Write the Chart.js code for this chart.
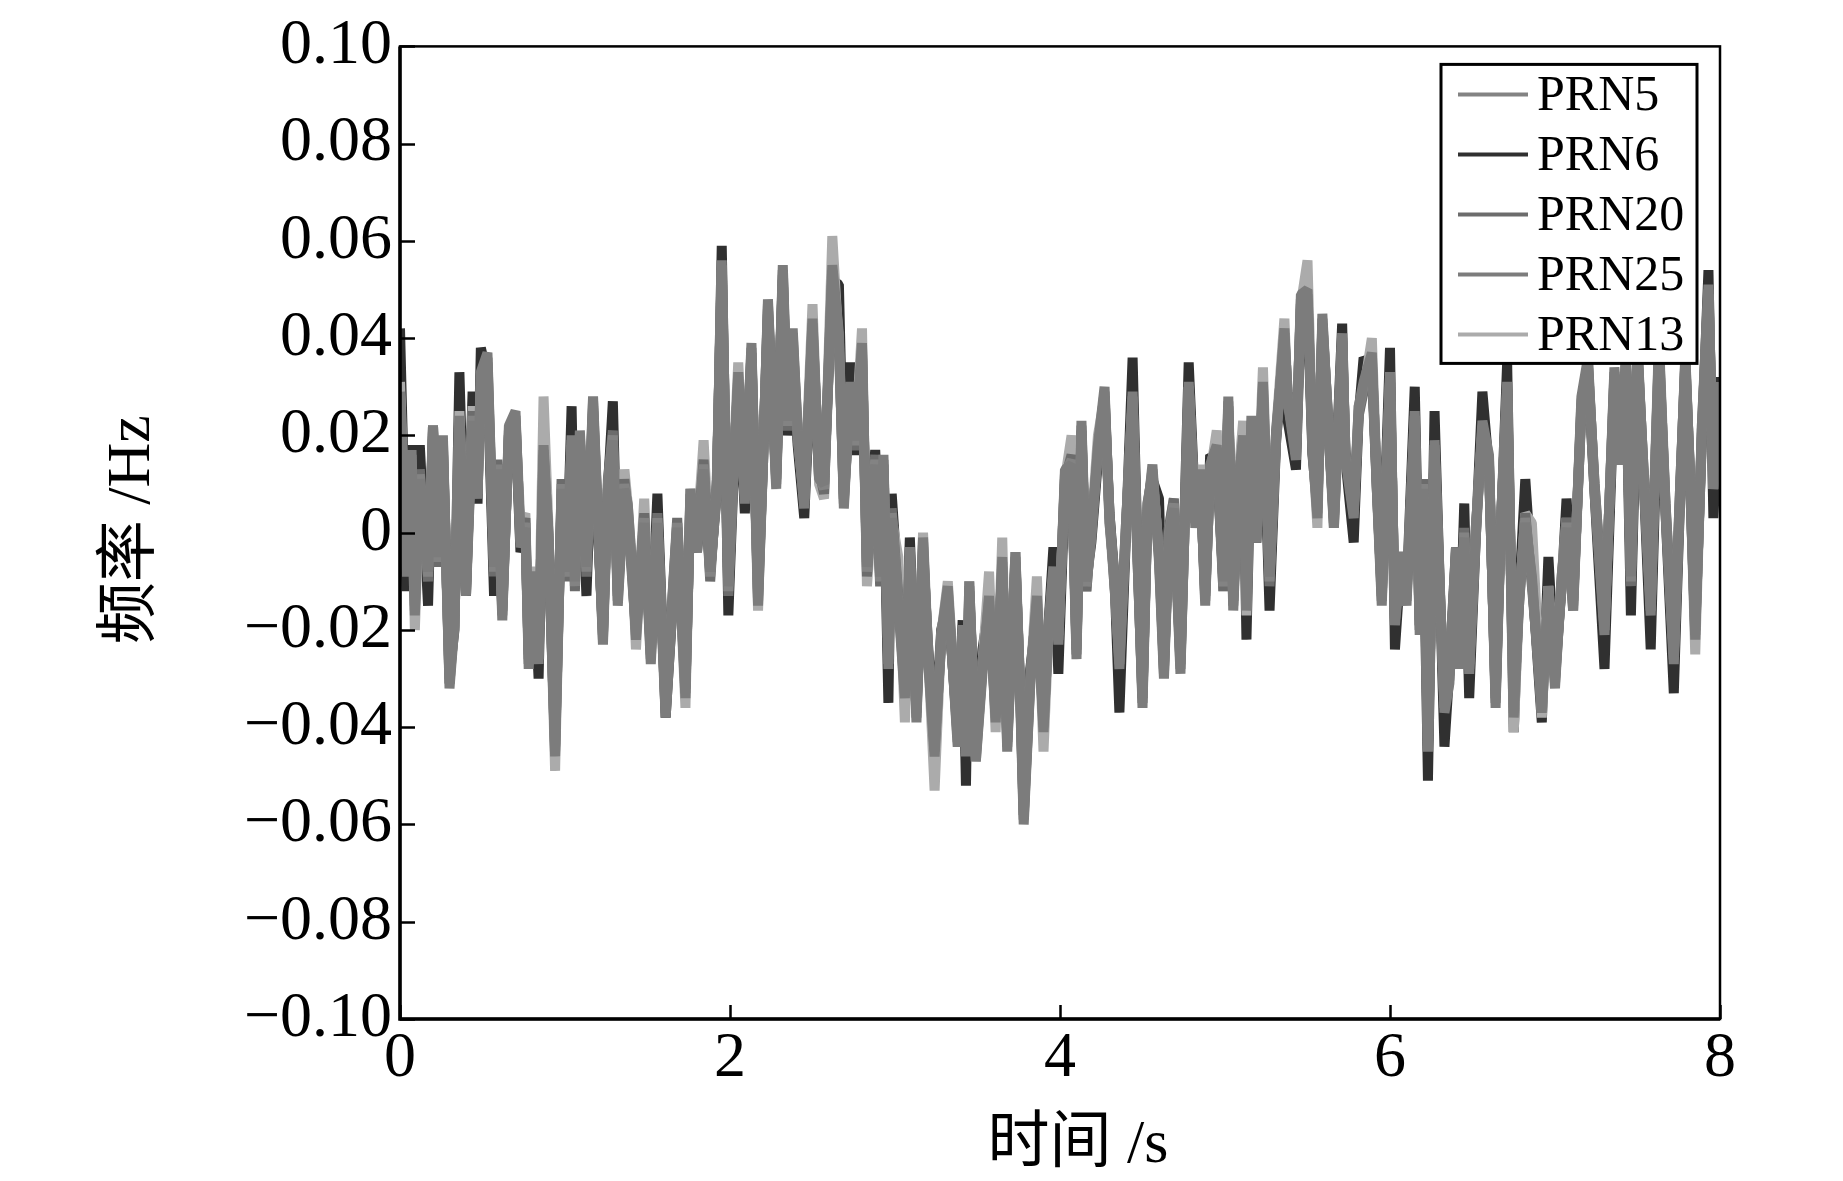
<!DOCTYPE html>
<html>
<head>
<meta charset="utf-8">
<script src="https://cdn.jsdelivr.net/npm/chart.js@4.4.0/dist/chart.umd.min.js"></script>
<style>
  html, body { margin: 0; padding: 0; background: #fff; }
  canvas { display: block; }
</style>
</head>
<body>
<canvas id="chart" width="1843" height="1181"></canvas>
<script>
// time samples (s)
const time = [
  0.00,0.04,0.07,0.09,0.12,0.17,0.20,0.23,0.26,0.30,
  0.33,0.36,0.40,0.44,0.47,0.49,0.53,0.57,0.59,0.62,
  0.66,0.70,0.73,0.76,0.78,0.81,0.84,0.87,0.90,0.94,
  0.98,1.01,1.04,1.06,1.09,1.13,1.17,1.20,1.23,1.26,
  1.29,1.32,1.36,1.38,1.41,1.43,1.48,1.52,1.56,1.61,
  1.68,1.73,1.76,1.80,1.84,1.88,1.92,1.95,1.99,2.02,
  2.05,2.09,2.13,2.17,2.20,2.23,2.28,2.32,2.35,2.38,
  2.41,2.45,2.50,2.54,2.57,2.62,2.66,2.69,2.73,2.76,
  2.80,2.83,2.88,2.91,2.93,2.96,2.98,3.02,3.06,3.09,
  3.13,3.17,3.20,3.24,3.28,3.32,3.38,3.41,3.43,3.45,
  3.49,3.53,3.57,3.61,3.65,3.68,3.73,3.76,3.78,3.82,
  3.86,3.90,3.93,3.96,3.99,4.03,4.07,4.10,4.13,4.16,
  4.19,4.23,4.27,4.30,4.33,4.36,4.40,4.44,4.47,4.50,
  4.53,4.56,4.60,4.63,4.66,4.69,4.73,4.78,4.82,4.85,
  4.88,4.91,4.95,4.99,5.02,5.05,5.08,5.11,5.13,5.16,
  5.19,5.23,5.27,5.31,5.36,5.38,5.43,5.46,5.50,5.53,
  5.56,5.59,5.63,5.66,5.71,5.73,5.78,5.81,5.84,5.89,
  5.92,5.95,6.00,6.03,6.07,6.10,6.15,6.18,6.20,6.23,
  6.27,6.30,6.33,6.36,6.40,6.42,6.45,6.48,6.52,6.56,
  6.60,6.64,6.67,6.71,6.75,6.78,6.82,6.86,6.92,6.96,
  7.00,7.04,7.07,7.11,7.16,7.20,7.24,7.30,7.36,7.40,
  7.43,7.46,7.50,7.54,7.58,7.63,7.67,7.72,7.76,7.79,
  7.82,7.85,7.89,7.93,7.96,8.00
];

// frequency values in mHz
const prn5 = [
  28,-8,16,-16,12,-9,21,-6,19,-31,
  -18,23,-12,24,8,32,36,-8,14,-17,
  21,24,-2,2,-27,-9,-26,17,-1,-45,
  10,-9,19,-11,20,-8,27,2,-22,10,
  20,-14,10,5,-10,-21,3,-26,3,-37,
  2,-33,8,-3,14,-9,10,55,-12,12,
  32,7,38,-14,15,47,10,54,22,41,
  20,6,43,12,9,54,40,6,30,18,
  38,-8,15,-10,15,-27,4,-14,-33,-4,
  -38,-2,-25,-45,-22,-12,-43,-20,-45,-11,
  -46,-28,-14,-38,-6,-44,-5,-35,-59,-30,
  -14,-40,-20,-8,-22,12,15,-25,22,-11,
  0,17,29,3,-10,-27,1,28,-5,-35,
  5,13,-5,-29,0,6,-28,30,2,12,
  -14,13,17,-11,27,-15,10,19,-15,23,
  -1,30,-10,20,41,28,16,48,49,18,
  4,44,20,2,40,16,4,25,30,36,
  10,-14,32,-18,-5,-14,24,-20,10,-44,
  18,-10,-36,-30,-4,-27,0,-28,0,22,
  15,-35,0,30,-37,-15,3,-10,-36,-12,
  -31,-10,2,-15,27,35,9,-20,33,15,
  36,-10,38,10,-16,38,5,-26,10,36,
  10,-21,21,50,10,30
];

const prn6 = [
  42,-12,18,-14,18,-15,22,-5,17,-29,
  -20,33,-13,29,6,38,32,-13,14,-15,
  20,22,-4,0,-25,-8,-30,15,-3,-44,
  8,-8,26,-9,19,-13,25,0,-20,9,
  27,-12,9,4,-9,-19,1,-24,8,-38,
  0,-32,6,-4,12,-8,8,59,-17,10,
  30,4,36,-12,14,45,12,52,20,38,
  18,3,41,11,10,52,51,8,35,16,
  36,-6,17,-8,13,-35,8,-12,-31,-1,
  -36,-4,-23,-43,-20,-14,-41,-18,-52,-12,
  -45,-24,-15,-36,-8,-42,-6,-33,-57,-28,
  -16,-38,-19,-3,-29,10,14,-23,20,-10,
  -2,15,27,4,-9,-37,0,36,-4,-33,
  4,11,7,-27,-2,5,-26,35,4,10,
  -12,16,15,-10,25,-13,9,17,-22,21,
  -2,28,-16,19,39,23,13,46,47,16,
  5,42,19,3,43,15,-2,24,36,34,
  9,-12,38,-24,-4,-13,30,-18,8,-51,
  25,-9,-44,-28,-3,-26,6,-34,-1,29,
  13,-33,-1,35,-41,-14,11,-9,-39,-5,
  -29,-11,7,-14,25,33,8,-28,31,14,
  34,-17,36,9,-24,36,4,-33,9,34,
  9,-20,19,54,3,32
];

const prn20 = [
  27,-7,15,-15,13,-10,20,-7,18,-30,
  -17,22,-11,25,9,31,35,-9,15,-16,
  20,23,-1,3,-26,-10,-25,16,0,-44,
  11,-10,18,-12,19,-9,26,1,-21,11,
  21,-13,11,4,-11,-20,4,-25,4,-36,
  3,-32,7,-2,15,-10,11,54,-13,13,
  31,8,37,-13,16,46,11,53,21,40,
  19,7,42,13,8,53,39,7,29,17,
  37,-9,16,-11,14,-26,5,-13,-32,-5,
  -37,-3,-24,-44,-23,-13,-42,-21,-44,-12,
  -45,-27,-15,-37,-7,-43,-6,-34,-58,-29,
  -15,-39,-21,-9,-21,11,16,-24,21,-12,
  1,16,28,4,-11,-26,2,27,-6,-34,
  6,12,-4,-28,1,7,-27,29,3,11,
  -13,12,16,-12,26,-14,11,18,-14,22,
  0,29,-11,21,40,29,17,47,48,19,
  5,43,21,3,39,17,5,24,29,35,
  11,-13,31,-17,-6,-13,23,-19,11,-43,
  17,-11,-35,-29,-5,-26,1,-27,1,21,
  14,-34,1,29,-36,-16,4,-11,-35,-13,
  -30,-11,3,-14,26,34,10,-19,32,16,
  35,-11,37,11,-15,37,6,-25,11,35,
  11,-20,20,49,11,29
];

const prn25 = [
  29,-9,17,-17,11,-8,22,-5,20,-32,
  -19,24,-13,23,7,33,37,-7,13,-18,
  22,25,-3,1,-28,-8,-27,18,-2,-46,
  9,-8,20,-10,21,-7,28,3,-23,9,
  19,-15,9,6,-9,-22,2,-27,2,-38,
  1,-34,9,-4,13,-8,9,56,-11,11,
  33,6,39,-15,14,48,9,55,23,42,
  21,5,44,11,10,55,41,5,31,19,
  39,-7,14,-9,16,-28,3,-15,-34,-3,
  -39,-1,-26,-46,-21,-11,-44,-19,-46,-10,
  -47,-29,-13,-39,-5,-45,-4,-36,-60,-31,
  -13,-41,-19,-7,-23,13,14,-26,23,-10,
  -1,18,30,2,-9,-28,0,29,-4,-36,
  4,14,-6,-30,-1,5,-29,31,1,13,
  -15,14,18,-10,28,-16,9,20,-16,24,
  -2,31,-9,19,42,27,15,49,50,17,
  3,45,19,1,41,15,3,26,31,37,
  9,-15,33,-19,-4,-15,25,-21,9,-45,
  19,-9,-37,-31,-3,-28,-1,-29,-1,23,
  16,-36,-1,31,-38,-14,2,-9,-37,-11,
  -32,-9,1,-16,28,36,8,-21,34,14,
  37,-9,39,9,-17,39,4,-27,9,37,
  9,-22,22,51,9,31
];

const prn13 = [
  31,-6,14,-20,10,-8,19,-4,16,-31,
  -18,25,-10,26,10,30,33,-6,12,-16,
  19,23,2,4,-25,-7,-24,28,1,-49,
  11,-7,18,-10,18,-6,25,3,-21,8,
  18,-13,13,6,-8,-24,7,-25,2,-35,
  2,-36,9,-1,19,-7,9,54,-10,14,
  35,8,37,-16,16,44,11,52,23,39,
  22,7,47,10,7,61,38,7,28,19,
  42,-11,13,-9,14,-25,3,-5,-39,-6,
  -37,0,-24,-53,-21,-10,-42,-21,-44,-10,
  -47,-27,-8,-41,-1,-43,-4,-34,-58,-31,
  -9,-45,-21,-9,-21,11,20,-24,21,-12,
  1,20,28,2,-11,-25,2,27,-6,-34,
  6,12,-4,-28,1,7,-27,30,3,14,
  -13,12,21,-12,26,-14,11,23,-17,22,
  0,34,-9,21,44,27,17,47,56,19,
  1,43,21,1,39,17,5,26,29,40,
  11,-13,31,-17,-6,-12,22,-19,11,-43,
  17,-11,-35,-29,-5,-26,-1,-27,1,21,
  14,-34,1,29,-41,-16,4,2,-38,-11,
  -30,-9,3,-16,26,34,10,-19,32,16,
  35,-9,37,11,-15,40,6,-25,11,35,
  11,-25,22,49,9,29
];

const seriesNames = ['PRN5', 'PRN6', 'PRN20', 'PRN25', 'PRN13'];
const seriesColors = ['#838383', '#303030', '#6c6c6c', '#7c7c7c', '#ababab'];
// drawing order: lower number is drawn on top
const seriesOrder = [1, 4, 2, 0, 3];
const seriesValues = [prn5, prn6, prn20, prn25, prn13];

const xTitle = '时间 /s';
const yTitle = '频率 /Hz';

const SERIF = '"Liberation Serif", "Times New Roman", serif';
const TITLE_FONT = '"Liberation Serif", "Noto Sans CJK SC", serif';

function toPoints(values) {
    // mHz -> Hz
    return time.map((t, i) => ({ x: t, y: values[i] / 1000 }));
}

function formatHz(v) {
    const r = Math.round(v * 100);
    if (r === 0) return '0';
    return (r < 0 ? '\u2212' : '') + (Math.abs(r) / 100).toFixed(2);
}

// frame, inward ticks, axis titles and boxed legend
const framePlugin = {
    id: 'frame',
    afterDraw(chart) {
        const { ctx, chartArea: a, scales: { x, y } } = chart;
        ctx.save();
        ctx.strokeStyle = '#000';
        ctx.lineCap = 'butt';

        // inward tick marks
        ctx.lineWidth = 2.5;
        ctx.beginPath();
        y.ticks.forEach(t => {
            const py = Math.round(y.getPixelForValue(t.value)) + 0.5;
            ctx.moveTo(a.left, py);
            ctx.lineTo(a.left + 15, py);
        });
        x.ticks.forEach(t => {
            const px = Math.round(x.getPixelForValue(t.value)) + 0.5;
            ctx.moveTo(px, a.bottom);
            ctx.lineTo(px, a.bottom - 14);
        });
        ctx.stroke();

        // box
        ctx.lineWidth = 2.5;
        ctx.strokeRect(a.left, a.top, a.right - a.left, a.bottom - a.top);
        ctx.lineWidth = 3.5;
        ctx.beginPath();
        ctx.moveTo(a.left, a.top);
        ctx.lineTo(a.left, a.bottom);
        ctx.lineTo(a.right, a.bottom);
        ctx.stroke();

        // axis titles
        ctx.fillStyle = '#000';
        ctx.font = '62px ' + TITLE_FONT;
        ctx.textAlign = 'center';
        ctx.textBaseline = 'middle';
        ctx.fillText(xTitle, (a.left + a.right) / 2 + 18, a.bottom + 127);
        ctx.save();
        ctx.translate(a.left - 267, (a.top + a.bottom) / 2 - 3);
        ctx.rotate(-Math.PI / 2);
        ctx.fillText(yTitle, 0, 0);
        ctx.restore();

        // legend
        const boxW = 256, boxH = 299;
        const bx = a.right - 23 - boxW;
        const by = a.top + 18;
        ctx.fillStyle = '#fff';
        ctx.fillRect(bx, by, boxW, boxH);
        ctx.lineWidth = 3;
        ctx.strokeRect(bx, by, boxW, boxH);

        ctx.font = '50px ' + SERIF;
        ctx.textBaseline = 'middle';
        ctx.textAlign = 'left';
        chart.data.datasets.forEach((ds, i) => {
            const cy = by + 30 + i * 60;
            ctx.strokeStyle = ds.borderColor;
            ctx.lineWidth = 4;
            ctx.beginPath();
            ctx.moveTo(bx + 17, cy);
            ctx.lineTo(bx + 87, cy);
            ctx.stroke();
            ctx.fillStyle = '#000';
            ctx.fillText(ds.label, bx + 96, cy + 2);
        });
        ctx.restore();
    }
};

const datasets = seriesNames.map((name, i) => ({
    label: name,
    data: toPoints(seriesValues[i]),
    borderColor: seriesColors[i],
    backgroundColor: seriesColors[i],
    borderWidth: 10,
    borderJoinStyle: 'bevel',
    pointRadius: 0,
    tension: 0,
    order: seriesOrder[i]
}));

new Chart(document.getElementById('chart'), {
    type: 'line',
    data: { datasets },
    options: {
        responsive: false,
        animation: false,
        devicePixelRatio: 1,
        layout: { padding: { top: 41, right: 123, left: 0, bottom: 0 } },
        plugins: {
            legend: { display: false },
            tooltip: { enabled: false }
        },
        scales: {
            x: {
                type: 'linear',
                min: 0,
                max: 8,
                grid: { display: false, drawTicks: false },
                border: { display: false },
                ticks: {
                    stepSize: 2,
                    padding: 2,
                    color: '#000',
                    font: { family: SERIF, size: 64 },
                    maxRotation: 0,
                    autoSkip: false,
                    callback: v => String(v)
                },
                afterFit: s => { s.height = 162; }
            },
            y: {
                min: -0.1,
                max: 0.1,
                grid: { display: false, drawTicks: false },
                border: { display: false },
                ticks: {
                    stepSize: 0.02,
                    padding: 8,
                    color: '#000',
                    font: { family: SERIF, size: 64 },
                    autoSkip: false,
                    callback: v => formatHz(v)
                },
                afterFit: s => { s.width = 400; }
            }
        }
    },
    plugins: [framePlugin]
});
</script>
</body>
</html>
